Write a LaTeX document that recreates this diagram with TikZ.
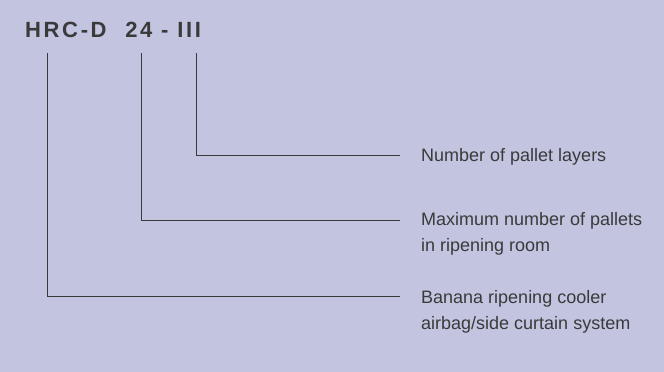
\documentclass[tikz,border=0pt]{standalone}
\usepackage{fontspec}
\setmainfont{Liberation Sans}
\definecolor{bg}{HTML}{C2C4E0}
\definecolor{ink}{HTML}{3A3A3A}
\begin{document}
\begin{tikzpicture}[x=1pt,y=-1pt,
  lbl/.style={anchor=west,inner sep=0pt,text=ink,font=\fontsize{18}{26}\selectfont,align=left},
  conn/.style={draw=ink,line width=0.9pt}]
\fill[bg] (0,0) rectangle (664,372);
\useasboundingbox (0,0) rectangle (664,372);
\node[anchor=base west,inner sep=0pt,text=ink,font=\fontsize{22}{26}\bfseries\addfontfeatures{LetterSpace=12}] (title) at (25,37) {HRC-D\hspace{10pt} 24 - III};
\coordinate (aTop) at (47,53);
\coordinate (bTop) at (141,53);
\coordinate (cTop) at (196,53);
\node[lbl] (l1) at (421,157) {Number of pallet layers};
\node[lbl,anchor=north west] (l2) at (421,212) {Maximum number of pallets\\in ripening room};
\node[lbl,anchor=north west] (l3) at (421,290) {Banana ripening cooler\\airbag/side curtain system};
\coordinate (e1) at (400,155);
\coordinate (e2) at (400,220);
\coordinate (e3) at (400,296);
\draw[conn] (cTop) |- (e1);
\draw[conn] (bTop) |- (e2);
\draw[conn] (aTop) |- (e3);
\end{tikzpicture}
\end{document}
